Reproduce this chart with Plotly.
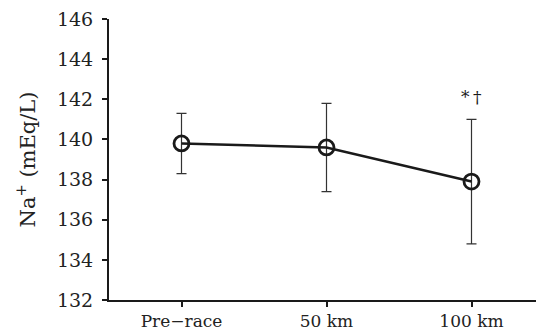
import plotly.graph_objects as go

categories = ["Pre\u2212race", "50 km", "100 km"]
means = [139.8, 139.6, 137.9]
err_plus = [1.5, 2.2, 3.1]
err_minus = [1.5, 2.2, 3.1]
y_ticks = [132, 134, 136, 138, 140, 142, 144, 146]
annotation_text = "*\u2009\u2020"

x_idx = [0, 1, 2]
FONT = "DejaVu Serif"

fig = go.Figure()
fig.add_trace(go.Scatter(
    x=x_idx, y=means,
    mode="lines+markers",
    line=dict(color="#1a1a1a", width=2.5),
    marker=dict(symbol="circle-open", size=15, color="#1a1a1a", line=dict(width=2.8)),
    error_y=dict(type="data", symmetric=False, array=err_plus, arrayminus=err_minus,
                 color="#333333", thickness=1.2, width=5),
    showlegend=False,
))

fig.add_annotation(x=2, y=means[2] + err_plus[2], text=annotation_text, showarrow=False,
                   yshift=22, font=dict(family=FONT, size=17, color="#1a1a1a"))

fig.update_layout(
    width=536, height=325,
    margin=dict(l=101, r=0, t=11, b=33),
    paper_bgcolor="white", plot_bgcolor="white",
    font=dict(family=FONT, size=18, color="#222222"),
    xaxis=dict(
        tickmode="array", tickvals=x_idx, ticktext=categories,
        range=[-0.5, 2.5], showgrid=False, zeroline=False,
        showline=True, linecolor="#1a1a1a", linewidth=2,
        ticks="outside", ticklen=5, tickwidth=2, tickcolor="#1a1a1a",
        tickson="boundaries", tickfont=dict(size=17),
        ticklabeloverflow="allow",
    ),
    yaxis=dict(
        tickmode="array", tickvals=y_ticks,
        range=[132, 146], showgrid=False, zeroline=False,
        showline=True, linecolor="#1a1a1a", linewidth=2,
        ticks="outside", ticklen=5, tickwidth=2, tickcolor="#1a1a1a",
        ticklabelstandoff=5, ticklabeloverflow="allow",
        title=dict(text="Na<sup>+</sup> (mEq/L)", standoff=16, font=dict(size=21)),
        tickfont=dict(size=19),
    ),
)

fig.write_html("out.html")
